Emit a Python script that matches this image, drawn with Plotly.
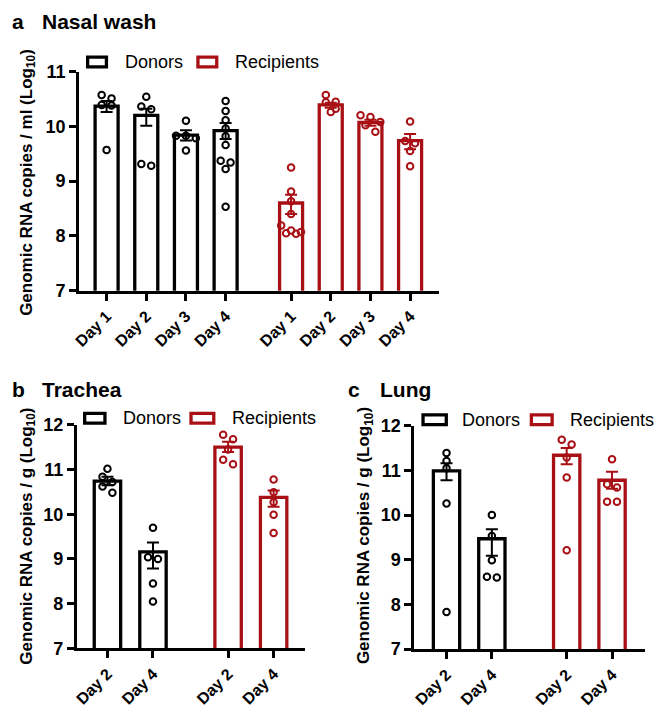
import plotly.graph_objects as go

W, H = 658, 719
BLACK = "#000000"
RED = "#A81016"
FONT = "Liberation Sans"

# ---------------- data ----------------
# Panel a: Nasal wash (Log10 genomic RNA copies / ml)
a_days = ["Day 1", "Day 2", "Day 3", "Day 4"]
a_don_mean = [10.37, 10.20, 9.84, 9.92]
a_don_plus = [0.09, 0.12, 0.09, 0.14]
a_don_minus = [0.11, 0.19, 0.10, 0.15]
a_don_pts = [
    [10.57, 10.51, 10.39, 10.38, 9.57],
    [10.54, 10.36, 10.31, 9.31, 9.28],
    [10.10, 9.83, 9.83, 9.78, 9.56],
    [10.46, 10.28, 10.11, 9.96, 9.82, 9.66, 9.37, 9.34, 9.22, 8.53],
]
a_rec_mean = [8.60, 10.39, 10.07, 9.74]
a_rec_plus = [0.15, 0.04, 0.05, 0.12]
a_rec_minus = [0.20, 0.05, 0.06, 0.16]
a_rec_pts = [
    [9.25, 8.81, 8.63, 8.40, 8.19, 8.10, 8.07, 8.05, 8.04],
    [10.57, 10.45, 10.44, 10.32, 10.26],
    [10.20, 10.17, 10.08, 10.02, 9.90],
    [10.09, 9.73, 9.69, 9.55, 9.27],
]

# Panel b: Trachea (Log10 genomic RNA copies / g)
b_days = ["Day 2", "Day 4"]
b_don_mean = [10.74, 9.16]
b_don_plus = [0.10, 0.21]
b_don_minus = [0.09, 0.37]
b_don_pts = [
    [11.02, 10.84, 10.72, 10.62, 10.48],
    [9.70, 9.04, 9.00, 8.45, 8.05],
]
b_rec_mean = [11.50, 10.38]
b_rec_plus = [0.12, 0.15]
b_rec_minus = [0.11, 0.21]
b_rec_pts = [
    [11.78, 11.68, 11.45, 11.22, 11.12],
    [10.78, 10.49, 10.27, 9.99, 9.58],
]

# Panel c: Lung (Log10 genomic RNA copies / g)
c_days = ["Day 2", "Day 4"]
c_don_mean = [10.99, 9.47]
c_don_plus = [0.17, 0.21]
c_don_minus = [0.21, 0.38]
c_don_pts = [
    [11.39, 11.21, 11.05, 10.26, 7.83],
    [10.00, 9.53, 8.99, 8.62, 8.60],
]
c_rec_mean = [11.34, 10.78]
c_rec_plus = [0.16, 0.19]
c_rec_minus = [0.20, 0.19]
c_rec_pts = [
    [11.69, 11.58, 11.29, 10.84, 9.21],
    [11.25, 10.69, 10.62, 10.30, 10.30],
]

a_yticks = [7, 8, 9, 10, 11]
bc_yticks = [7, 8, 9, 10, 11, 12]

# ---------------- layout helpers ----------------
def fx(p):
    return p / W


def fy(p):
    return 1 - p / H


GAP = 0.65
panels = [
    dict(label="a", title="Nasal wash", unit="ml", days=a_days,
         dm=a_don_mean, dp=a_don_plus, dn=a_don_minus, dpts=a_don_pts,
         rm=a_rec_mean, rp=a_rec_plus, rn=a_rec_minus, rpts=a_rec_pts,
         yt=a_yticks, xdom=(73, 436.7), ydom=(63.3, 288.7), xr=(-0.69, 8.38),
         ytitle=(21, 177), ptitle=(3, 33, 12),
         leg=((81.5, 100.5), 117, (193, 212), 228, 53.5)),
    dict(label="b", title="Trachea", unit="g", days=b_days,
         dm=b_don_mean, dp=b_don_plus, dn=b_don_minus, dpts=b_don_pts,
         rm=b_rec_mean, rp=b_rec_plus, rn=b_rec_minus, rpts=b_rec_pts,
         yt=bc_yticks, xdom=(70.7, 301.7), ydom=(426.7, 656.7), xr=(-0.67, 4.35),
         ytitle=(21, 541), ptitle=(3, 33, 390),
         leg=((78.5, 99), 115, (186, 209), 225, 420)),
    dict(label="c", title="Lung", unit="g", days=c_days,
         dm=c_don_mean, dp=c_don_plus, dn=c_don_minus, dpts=c_don_pts,
         rm=c_rec_mean, rp=c_rec_plus, rn=c_rec_minus, rpts=c_rec_pts,
         yt=bc_yticks, xdom=(411.7, 645), ydom=(427.7, 657.3), xr=(-0.71, 4.38),
         ytitle=(362, 541), ptitle=(343, 375, 390),
         leg=((420.5, 444), 458, (530, 551), 567, 421.5)),
]


def swarm(vals, center, ppx, ppy, d=7.0, step=10.0):
    order = sorted(range(len(vals)), key=lambda i: -vals[i])
    rows = []
    for i in order:
        if rows and (vals[rows[-1][0]] - vals[i]) * ppy < d:
            rows[-1].append(i)
        else:
            rows.append([i])
    xs = [0.0] * len(vals)
    for r in rows:
        n = len(r)
        for k, i in enumerate(r):
            xs[i] = center + (k - (n - 1) / 2) * step / ppx
    return xs


fig = go.Figure()
annotations = []
shapes = []

for idx, p in enumerate(panels):
    sfx = "" if idx == 0 else str(idx + 1)
    xa, ya = "x" + sfx, "y" + sfx
    n = len(p["days"])
    don_x = list(range(n))
    rec_x = [i + n + GAP for i in range(n)]
    yr = (p["yt"][0], p["yt"][-1])
    ppx = (p["xdom"][1] - p["xdom"][0]) / (p["xr"][1] - p["xr"][0])
    ppy = (p["ydom"][1] - p["ydom"][0]) / (yr[1] - yr[0])

    for xs, mean, ep, en, pts, col in [
        (don_x, p["dm"], p["dp"], p["dn"], p["dpts"], BLACK),
        (rec_x, p["rm"], p["rp"], p["rn"], p["rpts"], RED),
    ]:
        fig.add_trace(go.Bar(
            x=xs, y=mean, width=0.58, xaxis=xa, yaxis=ya, showlegend=False,
            marker=dict(color="white", line=dict(color=col, width=3.3)),
            error_y=dict(type="data", symmetric=False, array=ep, arrayminus=en,
                         color=col, thickness=2, width=6),
        ))
        px, py = [], []
        for ci, vals in zip(xs, pts):
            px += swarm(vals, ci, ppx, ppy)
            py += vals
        fig.add_trace(go.Scatter(
            x=px, y=py, mode="markers", xaxis=xa, yaxis=ya, showlegend=False,
            marker=dict(symbol="circle-open", size=6.5, color=col,
                        line=dict(width=2, color=col)),
        ))

    axis_common = dict(showline=True, linewidth=3, linecolor=BLACK, ticks="outside",
                       ticklen=7, tickwidth=3, tickcolor=BLACK, showgrid=False,
                       zeroline=False)
    fig.update_layout(**{
        "xaxis" + sfx: dict(axis_common, domain=[fx(p["xdom"][0]), fx(p["xdom"][1])],
                            range=list(p["xr"]), anchor=ya, tickmode="array",
                            tickvals=don_x + rec_x, ticktext=p["days"] + p["days"],
                            tickangle=-45,
                            tickfont=dict(family=FONT, size=16, color=BLACK, weight="bold")),
        "yaxis" + sfx: dict(axis_common, domain=[fy(p["ydom"][1]), fy(p["ydom"][0])],
                            range=list(yr), anchor=xa, tickmode="array",
                            tickvals=p["yt"], ticktext=[str(v) for v in p["yt"]],
                            tickfont=dict(family=FONT, size=18, color=BLACK, weight="bold")),
    })

    # y-axis title
    annotations.append(dict(
        text="Genomic RNA copies / %s (Log<sub>10</sub>)" % p["unit"],
        x=fx(p["ytitle"][0]), y=fy(p["ytitle"][1]), xref="paper", yref="paper",
        textangle=-90, showarrow=False, xanchor="center", yanchor="middle",
        font=dict(family=FONT, size=17, color=BLACK, weight="bold")))
    # panel label and title
    lx, tx, ty = p["ptitle"]
    for t, x in [(p["label"], lx), (p["title"], tx)]:
        annotations.append(dict(
            text=t, x=fx(x), y=fy(ty), xref="paper", yref="paper", showarrow=False,
            xanchor="left", yanchor="middle",
            font=dict(family=FONT, size=21, color=BLACK, weight="bold")))
    # legend
    (b0, b1), dtx, (r0, r1), rtx, ly = p["leg"]
    for (s0, s1), col, txt, tpos in [((b0, b1), BLACK, "Donors", dtx),
                                     ((r0, r1), RED, "Recipients", rtx)]:
        shapes.append(dict(type="rect", xref="paper", yref="paper",
                           x0=fx(s0), x1=fx(s1), y0=fy(ly + 5), y1=fy(ly - 5),
                           line=dict(color=col, width=3.3), fillcolor="white"))
        annotations.append(dict(
            text=txt, x=fx(tpos), y=fy(ly), xref="paper", yref="paper", showarrow=False,
            xanchor="left", yanchor="middle",
            font=dict(family=FONT, size=18, color=BLACK)))

fig.update_layout(
    width=W, height=H, margin=dict(l=0, r=0, t=0, b=0),
    paper_bgcolor="white", plot_bgcolor="white", barmode="overlay",
    annotations=annotations, shapes=shapes, showlegend=False,
    font=dict(family=FONT, color=BLACK),
)

fig.write_html("out.html", config={"displayModeBar": False},
               post_script="document.body.style.margin='0px';"
                           "document.body.style.overflow='hidden';")
